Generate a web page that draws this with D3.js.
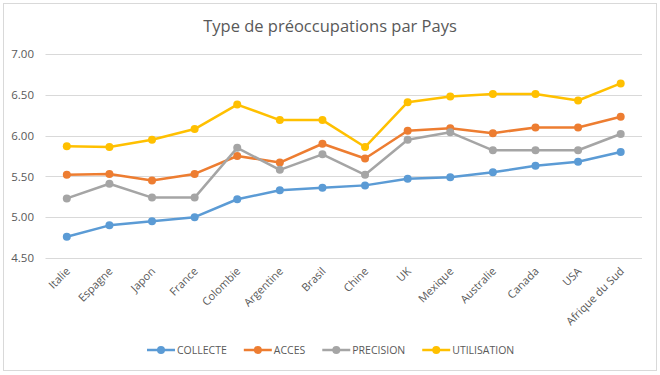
<!DOCTYPE html>
<html>
<head>
<meta charset="utf-8">
<script src="https://cdn.jsdelivr.net/npm/d3@7"></script>
<style>
  body { margin: 0; background: #fff; }
  text { font-family: "Open Sans", sans-serif; fill: #595959; }
</style>
</head>
<body>
<div id="chart"></div>
<script>
// data
var pays = ["Italie", "Espagne", "Japon", "France", "Colombie", "Argentine", "Brasil",
            "Chine", "UK", "Mexique", "Australie", "Canada", "USA", "Afrique du Sud"];

var collecte    = [4.76, 4.90, 4.95, 5.00, 5.22, 5.33, 5.36, 5.39, 5.47, 5.49, 5.55, 5.63, 5.68, 5.80];
var acces       = [5.52, 5.53, 5.45, 5.53, 5.75, 5.67, 5.90, 5.72, 6.06, 6.09, 6.03, 6.10, 6.10, 6.23];
var precision   = [5.23, 5.41, 5.24, 5.24, 5.85, 5.58, 5.77, 5.52, 5.95, 6.04, 5.82, 5.82, 5.82, 6.02];
var utilisation = [5.87, 5.86, 5.95, 6.08, 6.38, 6.19, 6.19, 5.86, 6.41, 6.48, 6.51, 6.51, 6.43, 6.64];

var seriesNames = ["COLLECTE", "ACCES", "PRECISION", "UTILISATION"];
var seriesColors = ["#5B9BD5", "#ED7D31", "#A5A5A5", "#FFC000"];
var yTicks = [4.5, 5.0, 5.5, 6.0, 6.5, 7.0];

var series = [collecte, acces, precision, utilisation].map(function(vals, i) {
    return { name: seriesNames[i], color: seriesColors[i], values: vals };
});

var width = 660, height = 375;

var svg = d3.select("#chart").append("svg")
    .attr("width", width)
    .attr("height", height);

// chart frame
svg.append("rect")
    .attr("x", 3.5).attr("y", 3.5)
    .attr("width", 653).attr("height", 367)
    .attr("fill", "#fff")
    .attr("stroke", "#D9D9D9");

svg.append("text")
    .attr("x", 330)
    .attr("y", 32)
    .attr("text-anchor", "middle")
    .attr("font-size", "16.5px")
    .text("Type de préoccupations par Pays");

var x = d3.scaleBand()
    .domain(pays)
    .range([45.5, 642]);

var y = d3.scaleLinear()
    .domain([4.5, 7])
    .range([258, 54]);

// gridlines
svg.append("g")
    .selectAll("line")
    .data(yTicks)
    .enter().append("line")
    .attr("x1", 45.5)
    .attr("x2", 642)
    .attr("y1", function(d) { return Math.round(y(d)) + 0.5; })
    .attr("y2", function(d) { return Math.round(y(d)) + 0.5; })
    .attr("stroke", "#D9D9D9")
    .attr("stroke-width", 1);

// y axis labels
var yAxis = svg.append("g")
    .attr("transform", "translate(34,0)")
    .call(d3.axisLeft(y).tickValues(yTicks).tickSize(0).tickPadding(0).tickFormat(d3.format(".2f")));
yAxis.select(".domain").remove();
yAxis.selectAll("text")
    .attr("font-size", "11.5px")
    .attr("font-family", "Open Sans, sans-serif")
    .attr("fill", "#595959");

// x axis labels, rotated
svg.append("g")
    .selectAll("text")
    .data(pays)
    .enter().append("text")
    .attr("text-anchor", "end")
    .attr("font-size", "11px")
    .attr("transform", function(d) {
        return "translate(" + (x(d) + x.bandwidth() / 2 + 4) + ",272) rotate(-45)";
    })
    .text(function(d) { return d; });

var line = d3.line()
    .x(function(d, i) { return x(pays[i]) + x.bandwidth() / 2; })
    .y(function(d) { return y(d); });

var groups = svg.selectAll(".serie")
    .data(series)
    .enter().append("g")
    .attr("class", "serie");

groups.append("path")
    .attr("d", function(d) { return line(d.values); })
    .attr("fill", "none")
    .attr("stroke", function(d) { return d.color; })
    .attr("stroke-width", 2.5)
    .attr("stroke-linejoin", "round");

groups.selectAll("circle")
    .data(function(d) { return d.values.map(function(v) { return { v: v, color: d.color }; }); })
    .enter().append("circle")
    .attr("cx", function(d, i) { return x(pays[i]) + x.bandwidth() / 2; })
    .attr("cy", function(d) { return y(d.v); })
    .attr("r", 4)
    .attr("fill", function(d) { return d.color; });

// legend
var legend = svg.append("g")
    .attr("transform", "translate(147,350)");

var offset = 0;
series.forEach(function(s) {
    var item = legend.append("g").attr("transform", "translate(" + offset + ",0)");
    item.append("line")
        .attr("x1", 0).attr("x2", 28)
        .attr("y1", 0).attr("y2", 0)
        .attr("stroke", s.color)
        .attr("stroke-width", 2.5);
    item.append("circle")
        .attr("cx", 14).attr("cy", 0).attr("r", 4)
        .attr("fill", s.color);
    var t = item.append("text")
        .attr("x", 30)
        .attr("y", 4)
        .attr("font-size", "10.5px")
        .text(s.name);
    offset += 30 + t.node().getComputedTextLength() + 17;
});
</script>
</body>
</html>
